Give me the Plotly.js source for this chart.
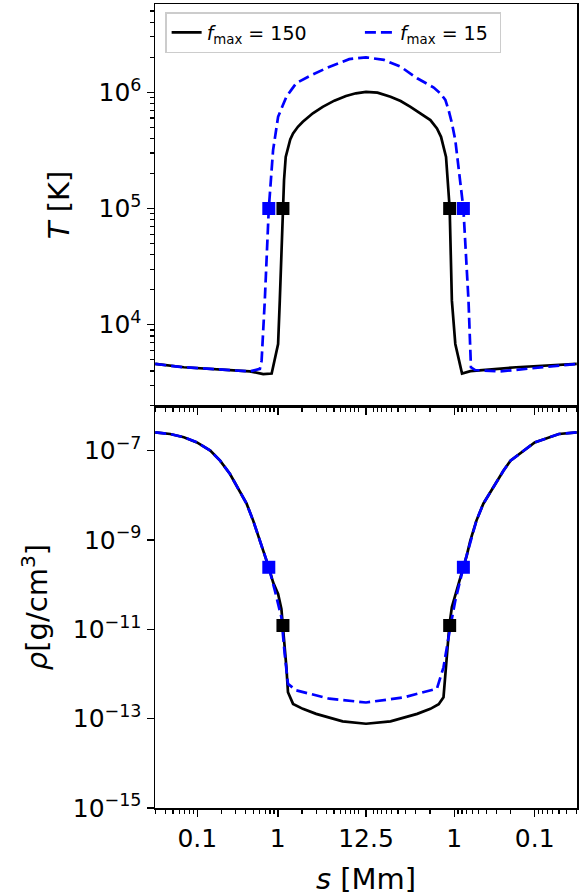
<!DOCTYPE html>
<html>
<head>
<meta charset="utf-8">
<script src="https://cdn.plot.ly/plotly-3.0.1.min.js"></script>
<style>
  body { margin: 0; padding: 0; background: #fff; }
  #plot { width: 585px; height: 896px; }
</style>
</head>
<body>
<div id="plot"></div>
<script>
// loop coordinate s [Mm], half length 12.5
const halfLength = 12.5;

// temperature, f_max = 150 (black)
const sTempHi = [0.030, 0.068, 0.45, 0.66, 0.84, 1.01, 1.06, 1.16, 1.197, 1.256, 1.34, 1.43, 1.55, 1.78, 2.05, 2.73, 3.62, 5.05, 7.05, 9.36, 12.5,
                 16.0, 18.8, 20.36, 21.5, 22.37, 23.02, 23.36, 23.54, 23.735, 23.80, 23.86, 23.93, 24.03, 24.2, 24.37, 24.83, 24.97];
const tempHi = [4590, 4300, 3960, 3760, 3800, 6820, 16100, 1.0e5, 1.75e5, 2.78e5, 3.39e5, 3.93e5, 4.43e5, 5.05e5, 5.57e5, 6.59e5, 7.5e5, 8.47e5, 9.3e5, 9.8e5, 1.01e6,
                9.93e5, 9.16e5, 8.41e5, 7.5e5, 6.59e5, 5.77e5, 4.89e5, 4.14e5, 2.78e5, 1.64e5, 1.0e5, 16100, 6820, 3800, 3980, 4300, 4590];

// temperature, f_max = 15 (blue)
const sTempLo = [0.030, 0.068, 0.45, 0.60, 0.63, 0.69, 0.774, 0.875, 1.01, 1.28, 1.475, 1.70, 2.48, 3.99, 7.74, 12.5,
                 17.54, 20.36, 22.11, 23.2, 23.51, 23.71, 23.825, 23.933, 24.03, 24.14, 24.23, 24.335, 24.38, 24.45, 24.73, 24.97];
const tempLo = [4590, 4300, 3960, 4160, 4900, 16100, 1.0e5, 3.18e5, 6.15e5, 9.16e5, 1.05e6, 1.2e6, 1.38e6, 1.61e6, 1.93e6, 2.0e6,
                1.9e6, 1.66e6, 1.32e6, 1.1e6, 9.8e5, 8.6e5, 7.03e5, 5.4e5, 3.87e5, 2.0e5, 1.0e5, 16100, 4300, 4070, 3960, 4590];

// density, f_max = 150 (black)
const sRhoHi = [0.030, 0.046, 0.068, 0.099, 0.145, 0.192, 0.255, 0.323, 0.41, 0.495, 0.60, 0.691, 0.774, 0.875, 1.01, 1.11, 1.16, 1.28, 1.34, 1.55, 2.05, 3.0, 6.4, 12.5,
                18.8, 22.11, 23.02, 23.44, 23.64, 23.77, 23.85, 23.93, 24.07, 24.15, 24.23, 24.30, 24.37, 24.47, 24.565, 24.66, 24.754, 24.80, 24.874, 24.90, 24.95, 24.97];
const rhoHi = [2.57e-7, 2.36e-7, 2.0e-7, 1.53e-7, 1.0e-7, 5.97e-8, 3.0e-8, 1.39e-8, 6.5e-9, 2.72e-9, 9.8e-10, 4.48e-10, 2.45e-10, 1.13e-10, 6.2e-11, 2.87e-11, 1.22e-11, 1.42e-12, 3.9e-13, 2.14e-13, 1.66e-13, 1.28e-13, 8.7e-14, 7.7e-14,
               8.7e-14, 1.28e-13, 1.66e-13, 2.1e-13, 3.0e-13, 2.8e-12, 1.22e-11, 3.16e-11, 7.4e-11, 1.3e-10, 2.45e-10, 4.48e-10, 9.8e-10, 2.72e-9, 6.5e-9, 1.39e-8, 3.5e-8, 5.97e-8, 1.1e-7, 1.53e-7, 2.36e-7, 2.57e-7];

// density, f_max = 15 (blue)
const sRhoLo = [0.030, 0.046, 0.068, 0.099, 0.145, 0.192, 0.255, 0.323, 0.41, 0.495, 0.60, 0.691, 0.774, 0.92, 1.11, 1.22, 1.34, 1.70, 4.38, 12.5,
                20.77, 23.36, 23.44, 23.64, 23.88, 24.03, 24.23, 24.30, 24.37, 24.47, 24.565, 24.66, 24.754, 24.80, 24.874, 24.90, 24.95, 24.97];
const rhoLo = [2.57e-7, 2.36e-7, 2.0e-7, 1.53e-7, 1.0e-7, 5.97e-8, 3.0e-8, 1.39e-8, 6.5e-9, 2.72e-9, 9.8e-10, 4.48e-10, 2.45e-10, 7.4e-11, 1.86e-11, 2.8e-12, 6.0e-13, 4.3e-13, 2.8e-13, 2.3e-13,
               3.0e-13, 4.7e-13, 6.2e-13, 1.41e-12, 1.12e-11, 4.4e-11, 2.45e-10, 4.48e-10, 9.8e-10, 2.72e-9, 6.5e-9, 1.39e-8, 3.5e-8, 5.97e-8, 1.1e-7, 1.53e-7, 2.36e-7, 2.57e-7];

// transition region markers (T = 1e5 K)
const sMarkHi = [1.16, 23.86];
const sMarkLo = [0.774, 24.23];
const tempMark = [1e5, 1e5];
const rhoMarkHi = [1.22e-11, 1.22e-11];
const rhoMarkLo = [2.45e-10, 2.45e-10];

// x tick labels (distance from nearest footpoint)
const xTickDist = [0.1, 1, 12.5, 1, 0.1];
const xTickSide = [0, 0, 0, 1, 1];
const xTickLabels = ['0.1', '1', '12.5', '1', '0.1'];

// folded log scale: log distance from left foot, mirrored for right half
const LH = Math.log10(halfLength);
function fold(s) {
    return s <= halfLength ? Math.log10(s) : 2 * LH - Math.log10(2 * halfLength - s);
}
function foldDist(d, side) {
    return side === 0 ? Math.log10(d) : 2 * LH - Math.log10(d);
}

const xTickVals = xTickDist.map((d, i) => foldDist(d, xTickSide[i]));
let xMinor = [];
[0.01, 0.1, 1].forEach(dec => {
    for (let m = 2; m <= 9; m++) {
        xMinor.push(foldDist(m * dec, 0));
        xMinor.push(foldDist(m * dec, 1));
    }
});
xMinor.push(foldDist(10, 0), foldDist(10, 1));

let tMinor = [];
[1e3, 1e4, 1e5, 1e6].forEach(dec => {
    for (let m = 2; m <= 9; m++) tMinor.push(m * dec);
});

const xRange = [Math.log10(0.0298), 2 * LH - Math.log10(0.0298)];

const font = 'DejaVu Sans, sans-serif';
const dash = '11px,5px';
const nb = '\u00a0';

const traces = [
    { x: sTempHi.map(fold), y: tempHi, xaxis: 'x', yaxis: 'y', mode: 'lines',
      line: { color: '#000000', width: 2.7 }, name: '<i>f</i><sub>max</sub> = 150' + nb.repeat(8) },
    { x: sTempLo.map(fold), y: tempLo, xaxis: 'x', yaxis: 'y', mode: 'lines',
      line: { color: '#0000ff', width: 2.7, dash: dash }, name: '<i>f</i><sub>max</sub> = 15' + nb },
    { x: sRhoHi.map(fold), y: rhoHi, xaxis: 'x2', yaxis: 'y2', mode: 'lines',
      line: { color: '#000000', width: 2.7 }, showlegend: false },
    { x: sRhoLo.map(fold), y: rhoLo, xaxis: 'x2', yaxis: 'y2', mode: 'lines',
      line: { color: '#0000ff', width: 2.7, dash: dash }, showlegend: false },
    { x: sMarkHi.map(fold), y: tempMark, xaxis: 'x', yaxis: 'y', mode: 'markers',
      marker: { symbol: 'square', size: 13, color: '#000000' }, showlegend: false },
    { x: sMarkLo.map(fold), y: tempMark, xaxis: 'x', yaxis: 'y', mode: 'markers',
      marker: { symbol: 'square', size: 13, color: '#0000ff' }, showlegend: false },
    { x: sMarkHi.map(fold), y: rhoMarkHi, xaxis: 'x2', yaxis: 'y2', mode: 'markers',
      marker: { symbol: 'square', size: 13, color: '#000000' }, showlegend: false },
    { x: sMarkLo.map(fold), y: rhoMarkLo, xaxis: 'x2', yaxis: 'y2', mode: 'markers',
      marker: { symbol: 'square', size: 13, color: '#0000ff' }, showlegend: false }
];

const axisCommon = {
    showline: true, linecolor: '#000', linewidth: 1.5, mirror: true,
    ticks: 'outside', ticklen: 7, tickwidth: 1.5, tickcolor: '#000',
    showgrid: false, zeroline: false,
    tickfont: { family: font, size: 25, color: '#000' }
};

const xCommon = Object.assign({}, axisCommon, {
    range: xRange, tickmode: 'array', tickvals: xTickVals, ticktext: xTickLabels,
    minor: { ticks: 'outside', ticklen: 4, tickwidth: 1.2, tickcolor: '#000', tickmode: 'array', tickvals: xMinor, showgrid: false }
});

const titleFont = { family: font, size: 29, color: '#000' };

const layout = {
    width: 585, height: 896,
    margin: { l: 155, r: 8, t: 4, b: 88 },
    paper_bgcolor: '#fff', plot_bgcolor: '#fff',
    font: { family: font, color: '#000' },
    showlegend: true,
    legend: {
        orientation: 'h', x: 0.024, y: 0.99, xanchor: 'left', yanchor: 'top',
        bgcolor: 'rgba(255,255,255,0.8)', bordercolor: '#cccccc', borderwidth: 1.5,
        font: { family: font, size: 19, color: '#000' }
    },
    xaxis: Object.assign({}, xCommon, { domain: [0, 1], anchor: 'y', showticklabels: false }),
    yaxis: Object.assign({}, axisCommon, {
        domain: [0.5, 1], anchor: 'x', type: 'log', range: [3.30, 6.76],
        tickmode: 'array', tickvals: [1e4, 1e5, 1e6],
        ticktext: ['10<sup>4</sup>', '10<sup>5</sup>', '10<sup>6</sup>'],
        minor: { ticks: 'outside', ticklen: 4, tickwidth: 1.2, tickcolor: '#000', tickmode: 'array', tickvals: tMinor, showgrid: false },
        title: { text: '<i>T</i> [K]', font: titleFont, standoff: 20 }
    }),
    xaxis2: Object.assign({}, xCommon, {
        domain: [0, 1], anchor: 'y2',
        title: { text: '<i>s</i> [Mm]', font: titleFont, standoff: 18 }
    }),
    yaxis2: Object.assign({}, axisCommon, {
        domain: [0, 0.5], anchor: 'x2', type: 'log', range: [-15, -6],
        tickmode: 'array', tickvals: [1e-15, 1e-13, 1e-11, 1e-9, 1e-7],
        ticktext: ['10<sup>\u221215</sup>', '10<sup>\u221213</sup>', '10<sup>\u221211</sup>', '10<sup>\u22129</sup>', '10<sup>\u22127</sup>'],
        title: { text: '<i>\u03c1</i>[g/cm<sup>3</sup>]', font: titleFont, standoff: 16 }
    })
};

Plotly.newPlot('plot', traces, layout, { displayModeBar: false, staticPlot: true });
</script>
</body>
</html>
